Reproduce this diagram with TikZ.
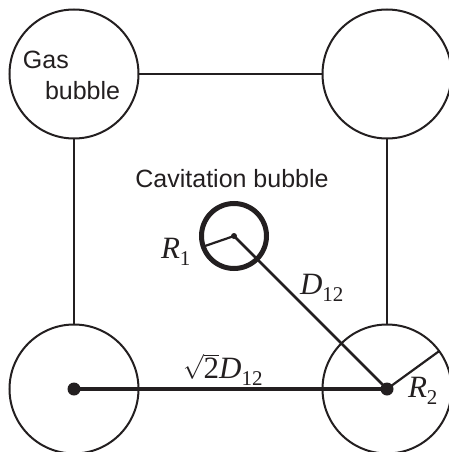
\documentclass[tikz,border=0pt]{standalone}
\usepackage{fontspec}
\setmainfont{Liberation Serif}
\newfontfamily\labelfont{Liberation Sans}
\definecolor{ink}{RGB}{35,31,32}
\newcommand{\subs}[1]{\raisebox{-7pt}{\upshape\fontsize{21}{21}\selectfont #1}}
\newcommand{\mathsz}{\fontsize{31}{31}\selectfont}
\begin{document}
\begin{tikzpicture}[x=1pt,y=-1pt,
  every node/.style={inner sep=0pt,outer sep=0pt,text=ink},
  bub/.style={circle,draw=ink,line width=2pt,minimum size=129pt},
  cavb/.style={circle,draw=ink,line width=5pt,minimum size=65pt},
  dotnode/.style={circle,fill=ink,minimum size=#1},
  frame/.style={draw=ink,line width=1.6pt},
  rad/.style={draw=ink,line width=2.2pt},
  dist/.style={draw=ink,line width=2.8pt},
  lab/.style={font=\labelfont\fontsize{25}{31}\selectfont},
  mlab/.style={font=\mathsz}]
\useasboundingbox (0,0) rectangle (448,452);
% gas bubbles
\node[bub] (tl) at (74,74) {};
\node[bub] (tr) at (387,74) {};
\node[bub] (bl) at (74,389) {};
\node[bub] (br) at (387,389) {};
% frame lines
\draw[frame] (tl) -- (tr);
\draw[frame] (tl) -- (bl);
\draw[frame] (tr) -- (br);
% cavitation bubble
\node[cavb] (cav) at (234,236) {};
\node[dotnode=6pt] (c0) at (cav.center) {};
\node[dotnode=13pt] (d1) at (bl.center) {};
\node[dotnode=13pt] (d2) at (br.center) {};
% radii
\coordinate (r1end) at (205,246);
\draw[rad] (c0.center) -- (r1end);
\draw[rad] (d2.center) -- (br.36);
% distances
\draw[dist] (c0.center) -- (d2.center);
\draw[dist,line width=3.4pt] (d1.center) -- (d2.center);
% texts
\node[lab,anchor=base west] (g1) at (23,68) {Gas};
\node[lab,anchor=base west] (g2) at (45,99) {bubble};
\node[lab,anchor=base] (cl) at (232,187) {Cavitation bubble};
\node[mlab,anchor=base west] (r1) at (161,258) {\itshape R\subs{1}};
\node[mlab,anchor=base west] (r2) at (408,397) {\itshape R\subs{2}};
\node[mlab,anchor=base west] (dd) at (300,294) {\itshape D\subs{12}};
\node[mlab,anchor=base west] (sd) at (183,378) {$\sqrt{\mbox{2}}$\itshape D\subs{12}};
\end{tikzpicture}
\end{document}
